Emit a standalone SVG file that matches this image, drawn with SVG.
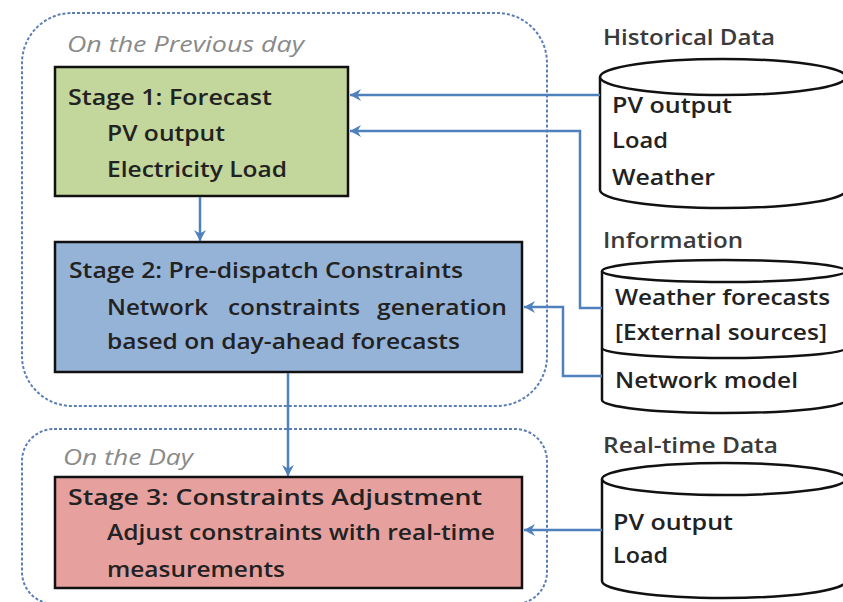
<svg xmlns="http://www.w3.org/2000/svg" width="843" height="602" viewBox="0 0 843 602">
<style>
.t{font-family:"Open Sans","Liberation Sans",sans-serif;font-size:21px;fill:#222;font-weight:600}
.lbl{font-family:"Open Sans","Liberation Sans",sans-serif;font-size:21px;fill:#3a3a3a;font-weight:600}
.it{font-family:"Open Sans","Liberation Sans",sans-serif;font-size:21px;fill:#8a8a8a;font-style:italic}
.grp{fill:none;stroke:#5b7fb5;stroke-width:2;stroke-dasharray:3 2}
.box{stroke:#111;stroke-width:2.5}
.cyl{fill:#fff;stroke:#111;stroke-width:2.5}
.cylL{fill:none;stroke:#111;stroke-width:2.5}
.con{fill:none;stroke:#4f81bd;stroke-width:2.5;marker-end:url(#ah)}
</style>
<defs>
<marker id="ah" markerUnits="userSpaceOnUse" markerWidth="14" markerHeight="14" refX="11" refY="7" orient="auto">
<path d="M0,1 L11,7 L0,13 L3.5,7 Z" fill="#4f81bd"/>
</marker>
</defs>
<rect width="843" height="602" fill="#fff"/>
<g id="group-previous-day">
<rect class="grp" x="22" y="13" width="525" height="393" rx="50" ry="50"/>
<text class="it" x="67" y="52" textLength="237" lengthAdjust="spacingAndGlyphs">On the Previous day</text>
</g>
<g id="group-on-the-day">
<rect class="grp" x="22" y="429" width="525" height="175" rx="32" ry="32"/>
<text class="it" x="63" y="465" textLength="130" lengthAdjust="spacingAndGlyphs">On the Day</text>
</g>
<g id="stage1">
<rect class="box" x="55" y="67" width="293" height="129" fill="#c3d69b"/>
<text class="t" x="68" y="105" textLength="204" lengthAdjust="spacingAndGlyphs">Stage 1: Forecast</text>
<text class="t" x="107" y="141" textLength="118" lengthAdjust="spacingAndGlyphs">PV output</text>
<text class="t" x="107" y="177" textLength="180" lengthAdjust="spacingAndGlyphs">Electricity Load</text>
</g>
<g id="stage2">
<rect class="box" x="55" y="242" width="467" height="130" fill="#95b3d7"/>
<text class="t" x="69" y="278" textLength="394" lengthAdjust="spacingAndGlyphs">Stage 2: Pre-dispatch Constraints</text>
<text class="t" y="315"><tspan x="107" textLength="101" lengthAdjust="spacingAndGlyphs">Network</tspan> <tspan x="228" textLength="132" lengthAdjust="spacingAndGlyphs">constraints</tspan> <tspan x="377" textLength="130" lengthAdjust="spacingAndGlyphs">generation</tspan></text>
<text class="t" x="107" y="349" textLength="353" lengthAdjust="spacingAndGlyphs">based on day-ahead forecasts</text>
</g>
<g id="stage3">
<rect class="box" x="55" y="477" width="467" height="111" fill="#e6a19f"/>
<text class="t" x="68" y="505" textLength="414" lengthAdjust="spacingAndGlyphs">Stage 3: Constraints Adjustment</text>
<text class="t" x="107" y="540" textLength="388" lengthAdjust="spacingAndGlyphs">Adjust constraints with real-time</text>
<text class="t" x="107" y="577" textLength="178" lengthAdjust="spacingAndGlyphs">measurements</text>
</g>
<g id="historical-data">
<text class="lbl" x="603" y="45" textLength="172" lengthAdjust="spacingAndGlyphs">Historical Data</text>
<path class="cyl" d="M600,77 V190 A123,18 0 0 0 846,190 V77"/>
<ellipse class="cyl" cx="723" cy="77" rx="123" ry="18"/>
<text class="t" x="612" y="113" textLength="120" lengthAdjust="spacingAndGlyphs">PV output</text>
<text class="t" x="612" y="148" textLength="56" lengthAdjust="spacingAndGlyphs">Load</text>
<text class="t" x="612" y="185" textLength="103" lengthAdjust="spacingAndGlyphs">Weather</text>
</g>
<g id="information">
<text class="lbl" x="603" y="248" textLength="140" lengthAdjust="spacingAndGlyphs">Information</text>
<path class="cyl" d="M602,271 V400 A122,13 0 0 0 846,400 V271"/>
<path class="cylL" d="M602,348 A122,10 0 0 0 846,348"/>
<ellipse class="cyl" cx="724" cy="271" rx="122" ry="11"/>
<text class="t" x="615" y="305" textLength="215" lengthAdjust="spacingAndGlyphs">Weather forecasts</text>
<text class="t" x="615" y="340" textLength="212" lengthAdjust="spacingAndGlyphs">[External sources]</text>
<text class="t" x="615" y="388" textLength="183" lengthAdjust="spacingAndGlyphs">Network model</text>
</g>
<g id="real-time-data">
<text class="lbl" x="603" y="453" textLength="175" lengthAdjust="spacingAndGlyphs">Real-time Data</text>
<path class="cyl" d="M602,479 V581 A122,17 0 0 0 846,581 V479"/>
<ellipse class="cyl" cx="724" cy="479" rx="122" ry="16"/>
<text class="t" x="613" y="530" textLength="120" lengthAdjust="spacingAndGlyphs">PV output</text>
<text class="t" x="613" y="563" textLength="55" lengthAdjust="spacingAndGlyphs">Load</text>
</g>
<g id="connectors">
<path class="con" d="M600,95 H350"/>
<path class="con" d="M602,308 H580 V131 H350"/>
<path class="con" d="M602,376 H563 V307 H524"/>
<path class="con" d="M200,197 V241"/>
<path class="con" d="M288,373 V476"/>
<path class="con" d="M602,530 H524"/>
</g>
</svg>
